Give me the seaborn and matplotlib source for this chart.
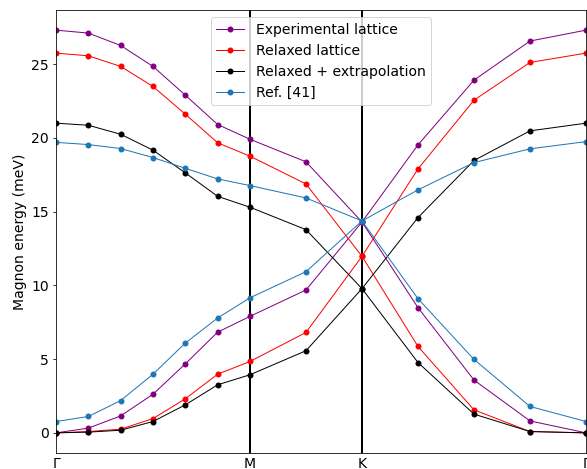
import numpy as np
import pandas as pd
import seaborn as sns
import matplotlib.pyplot as plt

# high-symmetry path  Gamma - M - K - Gamma (lengths in 2pi/a units)
sym_labels = ["Γ", "M", "K", "Γ"]
seg_lengths = [1 / np.sqrt(3), 1 / 3, 2 / 3]
seg_points = [7, 3, 5]

# magnon energies (meV), lower and upper branch along the path
exp_lower = [0, 0.32, 1.15, 2.62, 4.68, 6.83, 7.90, 9.69, 14.3, 8.49, 3.58, 0.81, 0]
exp_upper = [27.31, 27.11, 26.27, 24.85, 22.90, 20.91, 19.91, 18.38, 14.3, 19.53, 23.92, 26.57, 27.31]
rel_lower = [0, 0.09, 0.25, 0.97, 2.31, 3.98, 4.84, 6.81, 11.97, 5.86, 1.56, 0.09, 0]
rel_upper = [25.75, 25.57, 24.85, 23.49, 21.61, 19.67, 18.76, 16.88, 11.97, 17.90, 22.56, 25.12, 25.75]
ext_lower = [0, 0.05, 0.18, 0.77, 1.90, 3.26, 3.94, 5.57, 9.78, 4.77, 1.27, 0.09, 0]
ext_upper = [21.0, 20.86, 20.25, 19.17, 17.63, 16.04, 15.30, 13.78, 9.78, 14.60, 18.47, 20.48, 21.0]
ref_lower = [0.77, 1.11, 2.19, 3.98, 6.09, 7.79, 9.16, 10.93, 14.37, 9.10, 4.98, 1.79, 0.77]
ref_upper = [19.7, 19.55, 19.28, 18.67, 17.94, 17.22, 16.77, 15.93, 14.37, 16.48, 18.33, 19.26, 19.75]

series = [
    ("Experimental lattice", "purple", exp_lower, exp_upper),
    ("Relaxed lattice", "red", rel_lower, rel_upper),
    ("Relaxed + extrapolation", "black", ext_lower, ext_upper),
    ("Ref. [41]", "#1f77b4", ref_lower, ref_upper),
]

# k-path coordinates
sym_pos = np.concatenate([[0], np.cumsum(seg_lengths)])
kpath = [np.linspace(sym_pos[0], sym_pos[1], seg_points[0])]
for i in range(1, 3):
    kpath.append(np.linspace(sym_pos[i], sym_pos[i + 1], seg_points[i])[1:])
kpath = np.concatenate(kpath)

fig = plt.figure(figsize=(587 / 72, 469 / 72), dpi=72)
ax = fig.add_axes([56 / 587, 16 / 469, 530 / 587, 443 / 469])

for x in sym_pos[1:3]:
    ax.axvline(x, color="black", lw=2)

for name, color, lower, upper in series:
    for j, band in enumerate([lower, upper]):
        df = pd.DataFrame({"k": kpath, "E": band})
        sns.lineplot(data=df, x="k", y="E", ax=ax, color=color, lw=1,
                     marker="o", markersize=6, markeredgewidth=0,
                     label=name if j == 0 else None)

ax.set_xlim(sym_pos[0], sym_pos[-1])
ax.set_xticks(sym_pos)
ax.set_xticklabels(sym_labels)
ax.set_xlabel("")
ax.set_ylabel("Magnon energy (meV)", fontsize=14)
ax.tick_params(axis="both", labelsize=14)
ax.tick_params(axis="x", length=0)
ax.legend(loc="upper center", fontsize=14)

fig.savefig("out.png", dpi=72)
